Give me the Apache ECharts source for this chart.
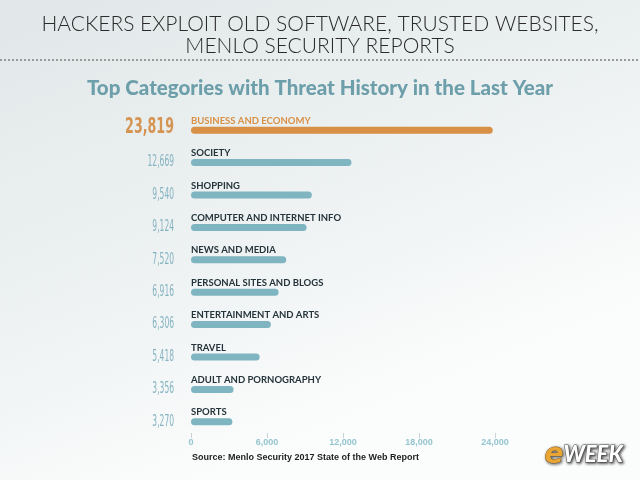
<!DOCTYPE html>
<html><head><meta charset="utf-8">
<script src="https://cdn.jsdelivr.net/npm/echarts@6/dist/echarts.min.js"></script>
<style>html,body{margin:0;padding:0;}#c{width:640px;height:480px;}</style>
</head><body><div id="c"></div>
<script>
const categories = ["BUSINESS AND ECONOMY","SOCIETY","SHOPPING","COMPUTER AND INTERNET INFO","NEWS AND MEDIA","PERSONAL SITES AND BLOGS","ENTERTAINMENT AND ARTS","TRAVEL","ADULT AND PORNOGRAPHY","SPORTS"];
const values = [23819,12669,9540,9124,7520,6916,6306,5418,3356,3270];
const tickMax = 24000, tickStep = 6000;
const titleLines = ["HACKERS EXPLOIT OLD SOFTWARE, TRUSTED WEBSITES,","MENLO SECURITY REPORTS"];
const subtitle = "Top Categories with Threat History in the Last Year";
const source = "Source: Menlo Security 2017 State of the Web Report";

const chart = echarts.init(document.getElementById('c'));
const fmt = v => v.toLocaleString('en-US');
const numFont = '"DejaVu Sans Condensed", "DejaVu Sans", sans-serif';
chart.setOption({
  animation:false,
  backgroundColor:{type:'linear',x:0,y:0,x2:0.3,y2:1,colorStops:[{offset:0,color:'#e1e7e8'},{offset:0.6,color:'#eef2f3'},{offset:1,color:'#fbfcfc'}]},
  title:[
    {text:titleLines.join('\n'),left:'center',top:8,textStyle:{fontFamily:'Lato',fontWeight:300,fontSize:21,color:'#2b2b2b',lineHeight:22}},
    {text:subtitle,left:'center',top:73,textStyle:{fontFamily:'Lato',fontWeight:900,fontSize:20.5,color:'#6d9fab'}}
  ],
  graphic:[
    {type:'line',shape:{x1:0,y1:60,x2:640,y2:60},style:{stroke:'#9a9a9a',lineWidth:2,lineDash:[2,2]}},
    {type:'text',left:192,top:453,style:{text:source,font:'bold 9px "Liberation Sans"',fill:'#1e1e1e'}},
    {type:'text',left:544,top:441,style:{text:'{e|e}{w|WEEK}',rich:{e:{font:'italic bold 28px "DejaVu Sans"',fill:'#e8a533',stroke:'#8a5a10',lineWidth:0.8,textShadowColor:'#555',textShadowBlur:3,textShadowOffsetX:1,textShadowOffsetY:1},w:{font:'italic 900 22px "Lato"',fill:'#ffffff',stroke:'#666',lineWidth:1,textShadowColor:'#333',textShadowBlur:3,textShadowOffsetX:1,textShadowOffsetY:1}}}}
  ],
  grid:{left:191,right:145,top:114,bottom:42},
  xAxis:{type:'value',min:0,max:tickMax,interval:tickStep,
    axisLine:{show:false},splitLine:{show:false},
    axisTick:{show:true,inside:true,length:5,lineStyle:{color:'#c9d3d5'}},
    axisLabel:{margin:0,color:'#94c5cf',fontFamily:'Liberation Sans',fontWeight:'bold',fontSize:9,formatter:v=>fmt(v)}},
  yAxis:{type:'category',inverse:true,data:categories,
    axisLine:{show:false},axisTick:{show:false},axisLabel:{show:false}},
  series:[
    {type:'bar',barWidth:7,
      data:values.map((v,i)=>({value:v,itemStyle:{color:i===0?'#d89046':'#7eb5c1',borderRadius:3.5},
        label:{color:i===0?'#d89046':'#25343a'}})),
      label:{show:true,position:[0,-6],verticalAlign:'middle',formatter:'{b}',fontFamily:'Lato',fontWeight:'bold',fontSize:9.5}
    },
    {type:'custom',data:values.map((v,i)=>[0,i,v]),encode:{x:0,y:1},silent:true,
      renderItem:(params,api)=>{
        const i = api.value(1);
        const p = api.coord([0,i]);
        const big = params.dataIndex===0;
        return {type:'text',x:p[0]-17,y:p[1]+(big?-2.5:0),scaleX:big?0.64:0.56,
          style:{text:fmt(api.value(2)),align:'right',verticalAlign:'middle',
            font:(big?'bold 22px ':'15px ')+numFont,fill:big?'#d69453':'#84b3c0'}};
      }}
  ]
});
</script></body></html>
